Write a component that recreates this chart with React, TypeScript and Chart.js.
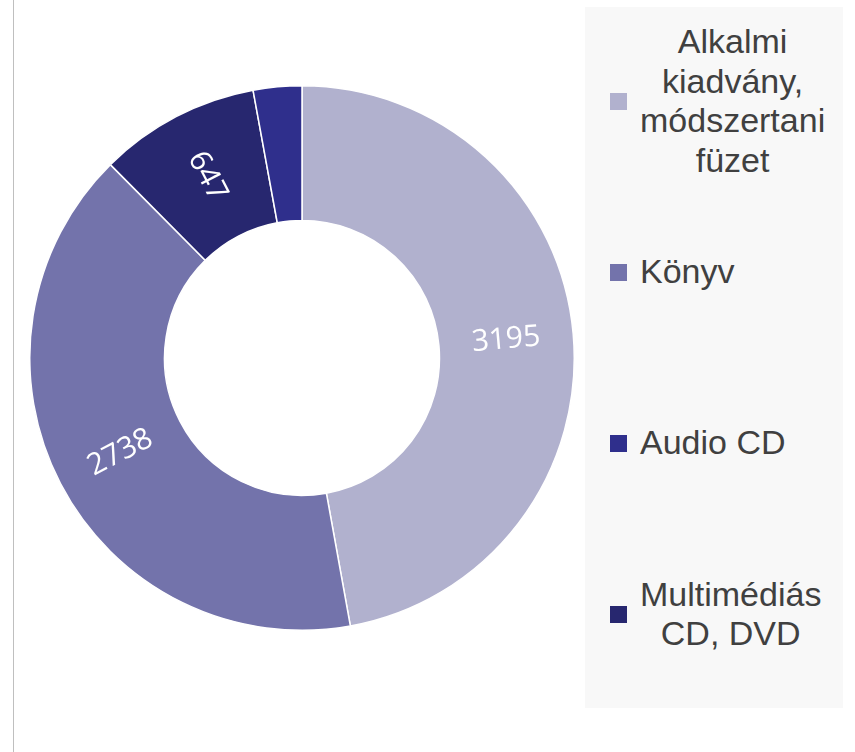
import React, { useEffect, useRef } from "react";
import { Chart, registerables } from "chart.js";

Chart.register(...registerables);

// Categories in legend order
const categories = [
  "Alkalmi kiadvány, módszertani füzet",
  "Könyv",
  "Audio CD",
  "Multimédiás CD, DVD",
];
const legendLines = [
  ["Alkalmi", "kiadvány,", "módszertani", "füzet"],
  ["Könyv"],
  ["Audio CD"],
  ["Multimédiás", "CD, DVD"],
];
const values = [3195, 2738, 195, 647];
const colors = ["#B1B1CE", "#7373AB", "#2F2F8C", "#27276F"];
// Clockwise drawing order of the slices, starting at 12 o'clock
const drawOrder = [0, 1, 3, 2];
// Which values carry a data label
const showLabel = [true, true, false, true];

const labelPlugin = {
  id: "radialLabels",
  afterDatasetsDraw(chart: any) {
    const ctx = chart.ctx;
    const meta = chart.getDatasetMeta(0);
    meta.data.forEach((arc: any, idx: number) => {
      const src = drawOrder[idx];
      if (!showLabel[src]) return;
      const { x, y, startAngle, endAngle, innerRadius, outerRadius } = arc.getProps(
        ["x", "y", "startAngle", "endAngle", "innerRadius", "outerRadius"],
        true
      );
      const mid = (startAngle + endAngle) / 2;
      const r = (innerRadius + outerRadius) / 2;
      const px = x + Math.cos(mid) * r;
      const py = y + Math.sin(mid) * r;
      let rot = Math.atan2(Math.sin(mid), Math.cos(mid));
      if (rot > Math.PI / 2) rot -= Math.PI;
      if (rot < -Math.PI / 2) rot += Math.PI;
      ctx.save();
      ctx.translate(px, py);
      ctx.rotate(rot);
      ctx.fillStyle = "#FFFFFF";
      ctx.font = '30px "Open Sans", "Noto Sans", sans-serif';
      ctx.textAlign = "center";
      ctx.textBaseline = "middle";
      ctx.fillText(String(values[src]), 0, 0);
      ctx.restore();
    });
  },
};

export default function App() {
  const canvasRef = useRef<HTMLCanvasElement | null>(null);

  useEffect(() => {
    if (!canvasRef.current) return;
    const chart = new Chart(canvasRef.current, {
      type: "doughnut",
      data: {
        labels: drawOrder.map((i) => categories[i]),
        datasets: [
          {
            data: drawOrder.map((i) => values[i]),
            backgroundColor: drawOrder.map((i) => colors[i]),
            borderColor: "#FFFFFF",
            borderWidth: 1.5,
          },
        ],
      },
      options: {
        responsive: false,
        maintainAspectRatio: false,
        animation: false,
        cutout: "50.5%",
        layout: { padding: 0 },
        plugins: {
          legend: { display: false },
          tooltip: { enabled: false },
        },
      },
      plugins: [labelPlugin],
    });
    return () => chart.destroy();
  }, []);

  return (
    <div
      style={{
        position: "fixed",
        left: 0,
        top: 0,
        width: 855,
        height: 752,
        background: "#FFFFFF",
        overflow: "hidden",
      }}
    >
      <div
        style={{
          position: "absolute",
          left: 13,
          top: 0,
          width: 1,
          height: 752,
          background: "#BFBFBF",
        }}
      />
      <canvas
        ref={canvasRef}
        width={546}
        height={546}
        style={{ position: "absolute", left: 29, top: 85, width: 546, height: 546 }}
      />
      <div
        style={{
          position: "absolute",
          left: 585,
          top: 7,
          width: 258,
          height: 701,
          background: "#F8F8F8",
          boxSizing: "border-box",
          paddingTop: 8.5,
        }}
      >
        {legendLines.map((lines, i) => (
          <div
            key={categories[i]}
            style={{
              height: 171,
              display: "flex",
              alignItems: "center",
            }}
          >
            <div
              style={{
                marginLeft: 25,
                width: 17,
                height: 17,
                background: colors[i],
                flex: "none",
              }}
            />
            <div
              style={{
                marginLeft: 13,
                display: "inline-block",
                textAlign: "center",
                fontFamily: '"Liberation Sans", Arial, sans-serif',
                fontSize: 34,
                lineHeight: "39.5px",
                color: "#404040",
                whiteSpace: "nowrap",
              }}
            >
              {lines.map((l, j) => (
                <div key={j}>{l}</div>
              ))}
            </div>
          </div>
        ))}
      </div>
    </div>
  );
}
